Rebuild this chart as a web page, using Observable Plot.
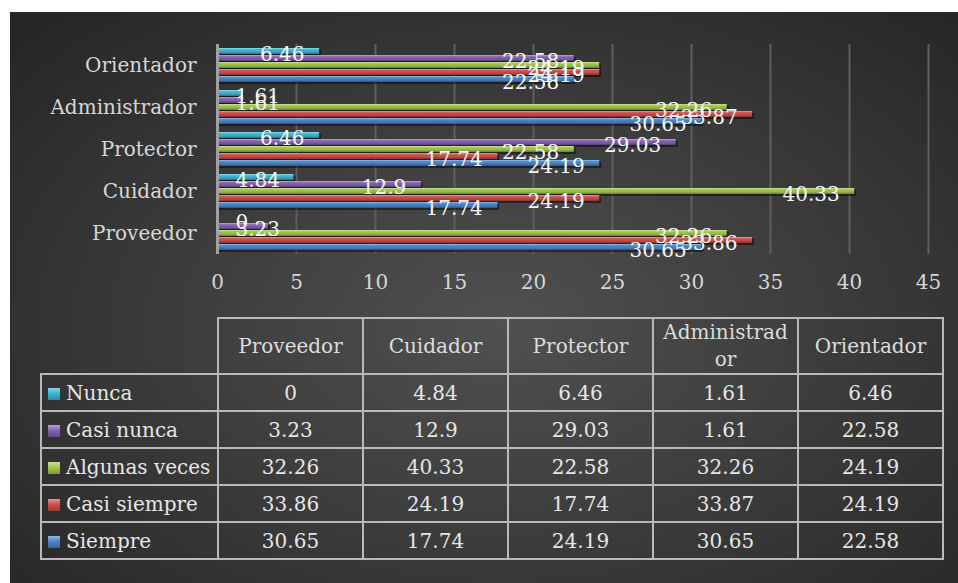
<!DOCTYPE html>
<html>
<head>
<meta charset="utf-8">
<script src="https://cdn.jsdelivr.net/npm/d3@7"></script>
<script src="https://cdn.jsdelivr.net/npm/@observablehq/plot@0.6"></script>
<style>
  html, body { margin: 0; padding: 0; background: #fff; }
  #wrap { position: relative; width: 958px; height: 583px; overflow: hidden; background: #fff; }
  #panel { position: absolute; left: 10px; top: 12px; width: 948px; height: 571px;
    background: radial-gradient(ellipse 70% 75% at 52% 55%, #505050 0%, #3e3e3e 45%, #262626 100%); }
  #chart { position: absolute; left: 0; top: 0; }
  #tbl { position: absolute; left: 40px; top: 317px; border-collapse: collapse; table-layout: fixed; width: 902px;
    font-family: "DejaVu Serif", serif; font-size: 20px; color: #e6e6e6; }
  #tbl td, #tbl th { border: 2px solid #b9b9b9; text-align: center; font-weight: normal; padding: 0; }
  #tbl th { height: 53px; line-height: 27px; padding: 0 8px; word-break: break-all; color: #dcdcdc; }
  #tbl td { height: 35px; }
  #tbl td.name { text-align: left; white-space: nowrap; padding-left: 6px; }
  #tbl th.blank { border-top: none; border-left: none; padding: 0; }
  .key { display: inline-block; width: 12px; height: 12px; margin-right: 6px; vertical-align: 0px; }
</style>
</head>
<body>
<svg width="0" height="0" style="position:absolute">
  <defs id="grads"></defs>
</svg>
<div id="wrap">
  <div id="panel"></div>
  <div id="chart"></div>
  <table id="tbl"></table>
</div>
<script>
// ---- data ----
const categories = ["Proveedor", "Cuidador", "Protector", "Administrador", "Orientador"];
const seriesNames = ["Nunca", "Casi nunca", "Algunas veces", "Casi siempre", "Siempre"];
const nunca = [0, 4.84, 6.46, 1.61, 6.46];
const casiNunca = [3.23, 12.9, 29.03, 1.61, 22.58];
const algunasVeces = [32.26, 40.33, 22.58, 32.26, 24.19];
const casiSiempre = [33.86, 24.19, 17.74, 33.87, 24.19];
const siempre = [30.65, 17.74, 24.19, 30.65, 22.58];
const xTicks = [0, 5, 10, 15, 20, 25, 30, 35, 40, 45];
const seriesColors = ["#3fb6d6", "#8763b4", "#a3c74a", "#cf4f4a", "#4a86cc"];

const seriesValues = [nunca, casiNunca, algunasVeces, casiSiempre, siempre];
const table = [];
seriesNames.forEach((s, si) => categories.forEach((c, ci) => table.push({series: s, category: c, value: seriesValues[si][ci]})));

// gradients (3D bevel look)
const defs = document.getElementById("grads");
const ns = "http://www.w3.org/2000/svg";
seriesColors.forEach((col, i) => {
  const g = document.createElementNS(ns, "linearGradient");
  g.setAttribute("id", "g" + i);
  g.setAttribute("x1", "0"); g.setAttribute("y1", "0"); g.setAttribute("x2", "0"); g.setAttribute("y2", "1");
  const base = d3.color(col);
  const stops = [[0, d3.interpolateRgb(col, "#fff")(0.45)], [0.3, col], [0.7, base.darker(0.3).formatHex()], [1, base.darker(1.4).formatHex()]];
  stops.forEach(([o, c]) => {
    const st = document.createElementNS(ns, "stop");
    st.setAttribute("offset", o); st.setAttribute("stop-color", c);
    g.appendChild(st);
  });
  defs.appendChild(g);
});

const plot = Plot.plot({
  width: 958,
  height: 300,
  marginLeft: 217,
  marginRight: 30,
  marginTop: 42,
  marginBottom: 45,
  style: {fontFamily: "DejaVu Serif, serif", fontSize: "20px", color: "#d6d6d6", background: "transparent", overflow: "visible"},
  facet: {data: table, y: "category"},
  fy: {domain: categories.slice().reverse(), axis: "left", tickSize: 0, tickPadding: 21, label: null, padding: 0},
  y: {domain: seriesNames, axis: null, paddingInner: 0.12, paddingOuter: 0.35},
  x: {domain: [0, 45], ticks: xTicks, tickSize: 0, tickPadding: 20, label: null},
  color: {type: "ordinal", domain: seriesNames, range: seriesNames.map((d, i) => `url(#g${i})`)},
  marks: [
    Plot.ruleX(xTicks.slice(1), {stroke: "#5e5e5e", strokeWidth: 2}),
    Plot.barX(table, {x: "value", y: "series", fill: "#000", fillOpacity: 0.45, dx: 2, dy: 2}),
    Plot.barX(table, {x: "value", y: "series", fill: "series"}),
    Plot.ruleX([0], {stroke: "#a0a0a0", strokeWidth: 3}),
    Plot.text(table, {filter: d => d.value >= 5, x: "value", y: "series", text: d => String(d.value), textAnchor: "end", dx: -15, dy: 3, fill: "#f6f6f6"}),
    Plot.text(table, {filter: d => d.value < 5, x: () => 0, y: "series", text: d => String(d.value), textAnchor: "start", dx: 18, dy: 3, fill: "#f6f6f6"})
  ]
});
document.getElementById("chart").appendChild(plot);

// data table
const tbl = document.getElementById("tbl");
const cg = document.createElement("colgroup");
[177, 145, 145, 145, 145, 145].forEach(w => { const c = document.createElement("col"); c.style.width = w + "px"; cg.appendChild(c); });
tbl.appendChild(cg);
const hr = document.createElement("tr");
const blank = document.createElement("th"); blank.className = "blank";
hr.appendChild(blank);
categories.forEach(c => { const th = document.createElement("th"); th.textContent = c; hr.appendChild(th); });
tbl.appendChild(hr);
seriesNames.forEach((s, si) => {
  const tr = document.createElement("tr");
  const nm = document.createElement("td"); nm.className = "name";
  const key = document.createElement("span"); key.className = "key";
  const col = seriesColors[si];
  key.style.background = `linear-gradient(180deg, ${d3.interpolateRgb(col, "#fff")(0.4)} 0%, ${col} 45%, ${d3.color(col).darker(0.8).formatHex()} 100%)`;
  nm.appendChild(key);
  nm.appendChild(document.createTextNode(s));
  tr.appendChild(nm);
  categories.forEach((c, ci) => { const td = document.createElement("td"); td.textContent = String(seriesValues[si][ci]); tr.appendChild(td); });
  tbl.appendChild(tr);
});
</script>
</body>
</html>
